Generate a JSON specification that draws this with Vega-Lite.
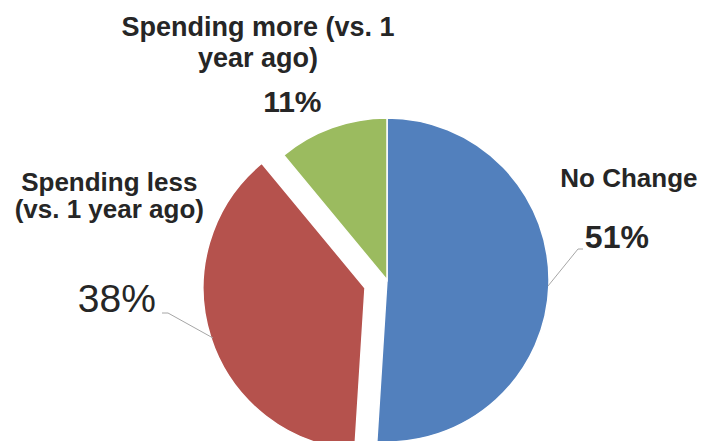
{
  "$schema": "https://vega.github.io/schema/vega-lite/v6.json",
  "autosize": {"type": "none"},
  "width": 320,
  "height": 320,
  "padding": {"left": 227, "top": 120, "right": 156, "bottom": 1},
  "background": "#ffffff",
  "config": {"view": {"stroke": null}, "text": {"font": "Liberation Sans", "fill": "#262626"}},
  "data": {
    "values": [
      {"cat": "No Change", "label": "No Change", "pct": 0.51, "order": 1},
      {"cat": "Spending less", "label": "Spending less\n(vs. 1 year ago)", "pct": 0.38, "order": 2},
      {"cat": "Spending more", "label": "Spending more (vs. 1\nyear ago)", "pct": 0.11, "order": 3}
    ]
  },
  "encoding": {
    "theta": {"field": "pct", "type": "quantitative", "stack": true},
    "order": {"field": "order", "type": "quantitative"}
  },
  "layer": [
    {
      "mark": {"type": "arc", "radius": 162, "stroke": "#ffffff", "strokeWidth": 1.5},
      "encoding": {
        "color": {"field": "cat", "type": "nominal", "legend": null,
          "scale": {"domain": ["No Change", "Spending less", "Spending more"], "range": ["#5280bd", "#b5524d", "#9bbb5f"]}},
        "opacity": {"condition": {"test": "datum.cat === 'Spending less'", "value": 0}, "value": 1}
      }
    },
    {
      "mark": {"type": "arc", "radius": 162, "stroke": "#ffffff", "strokeWidth": 1.5, "xOffset": -22, "yOffset": 8},
      "encoding": {
        "color": {"field": "cat", "type": "nominal", "legend": null},
        "opacity": {"condition": {"test": "datum.cat === 'Spending less'", "value": 1}, "value": 0}
      }
    },
    {
      "mark": {"type": "point", "xOffset": 161, "yOffset": 6, "filled": false, "stroke": "#a6a6a6", "strokeWidth": 1, "size": 6400, "shape": "M0,0L0.75,-0.925L0.875,-0.925"},
      "encoding": {"opacity": {"condition": {"test": "datum.cat === 'No Change'", "value": 1}, "value": 0}}
    },
    {
      "mark": {"type": "point", "xOffset": -174, "yOffset": 58, "filled": false, "stroke": "#a6a6a6", "strokeWidth": 1, "size": 6400, "shape": "M0,0L-1.125,-0.625L-1.275,-0.625"},
      "encoding": {"opacity": {"condition": {"test": "datum.cat === 'Spending less'", "value": 1}, "value": 0}}
    },
    {
      "mark": {"type": "text", "radius": 242, "dy": -109, "fontSize": 26, "fontWeight": "bold", "lineBreak": "\n", "lineHeight": 29},
      "encoding": {"text": {"condition": {"test": "datum.cat === 'No Change'", "field": "label", "type": "nominal"}, "value": ""}}
    },
    {
      "mark": {"type": "text", "radius": 230, "dy": -49, "fontSize": 32, "fontWeight": "bold"},
      "encoding": {"text": {"condition": {"test": "datum.cat === 'No Change'", "field": "pct", "type": "quantitative", "format": ".0%"}, "value": ""}}
    },
    {
      "mark": {"type": "text", "radius": 292, "dy": -187, "fontSize": 26, "fontWeight": "bold", "lineBreak": "\n", "lineHeight": 27},
      "encoding": {"text": {"condition": {"test": "datum.cat === 'Spending less'", "field": "label", "type": "nominal"}, "value": ""}}
    },
    {
      "mark": {"type": "text", "radius": 284, "dy": -68, "fontSize": 39, "fontWeight": "normal"},
      "encoding": {"text": {"condition": {"test": "datum.cat === 'Spending less'", "field": "pct", "type": "quantitative", "format": ".0%"}, "value": ""}}
    },
    {
      "mark": {"type": "text", "radius": 251, "dx": -44, "dy": -16, "fontSize": 27, "fontWeight": "bold", "lineBreak": "\n", "lineHeight": 31},
      "encoding": {"text": {"condition": {"test": "datum.cat === 'Spending more'", "field": "label", "type": "nominal"}, "value": ""}}
    },
    {
      "mark": {"type": "text", "radius": 188, "dx": -31, "fontSize": 30, "fontWeight": "bold"},
      "encoding": {"text": {"condition": {"test": "datum.cat === 'Spending more'", "field": "pct", "type": "quantitative", "format": ".0%"}, "value": ""}}
    }
  ]
}
